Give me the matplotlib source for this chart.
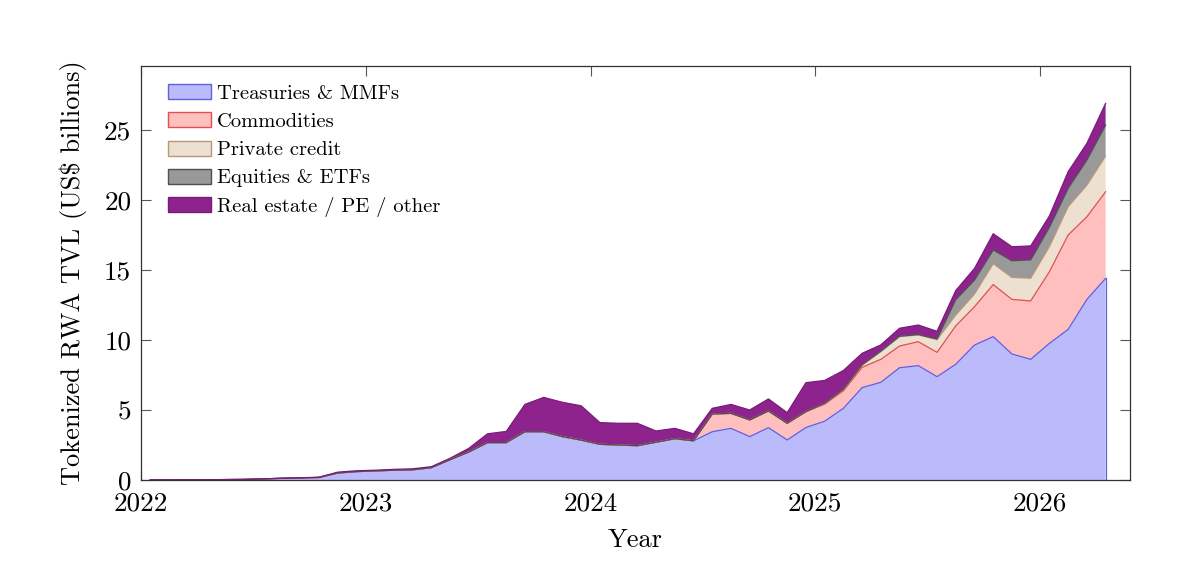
import numpy as np
import matplotlib
matplotlib.use("Agg")
import matplotlib.pyplot as plt
from matplotlib.patches import Patch

# ---- data (US$ billions), monthly Jan 2022 .. Apr 2026 ----
months = [f"{y}-{m:02d}" for y in range(2022, 2027) for m in range(1, 13)][:52]

treasuries = [0.01, 0.01, 0.02, 0.02, 0.03, 0.04, 0.08, 0.12, 0.15, 0.18,
              0.50, 0.60, 0.65, 0.70, 0.73, 0.88, 1.45, 2.00, 2.67, 2.67,
              3.45, 3.45, 3.10, 2.85, 2.55, 2.50, 2.45, 2.70, 2.95, 2.80,
              3.45, 3.69, 3.10, 3.74, 2.86, 3.75, 4.20, 5.12, 6.60, 6.98,
              8.02, 8.17, 7.38, 8.27, 9.64, 10.24, 9.00, 8.62, 9.76, 10.76,
              12.90, 14.40]
commodities = [0]*29 + [0.0,
               1.26, 1.07, 1.19, 1.19, 1.19, 1.13, 1.22, 1.25, 1.45, 1.64,
               1.55, 1.71, 1.74, 2.74, 2.74, 3.72, 3.90, 4.17, 5.12, 6.74,
               5.90, 6.19]
private_credit = [0]*35 + [0.0, 0.05, 0.10, 0.15, 0.55, 0.67, 0.48, 0.90,
                           0.77, 0.90, 1.49, 1.57, 1.62, 1.79, 2.02, 2.26, 2.55]
equities = [0]*35 + [0.0, 0.01, 0.02, 0.03, 0.03, 0.03, 0.03, 0.05,
                     1.10, 1.00, 0.98, 1.19, 1.31, 1.38, 1.31, 1.79, 2.21]
other = [0.0, 0.0, 0.0, 0.0, 0.0, 0.0, 0.0, 0.0, 0.01, 0.02,
         0.06, 0.06, 0.05, 0.06, 0.07, 0.07, 0.10, 0.26, 0.63, 0.80,
         1.95, 2.45, 2.45, 2.45, 1.55, 1.55, 1.60, 0.80, 0.74, 0.50,
         0.41, 0.64, 0.71, 0.86, 0.76, 2.07, 1.63, 1.33, 0.82, 0.45,
         0.57, 0.68, 0.55, 0.65, 0.83, 1.16, 1.00, 1.00, 0.81, 1.19,
         1.19, 1.55]

series_names = ["Treasuries & MMFs", "Commodities", "Private credit",
                "Equities & ETFs", "Real estate / PE / other"]

# ---- styling ----
plt.rcParams["font.family"] = ["cmr10", "DejaVu Serif"]
plt.rcParams["mathtext.fontset"] = "cm"
plt.rcParams["axes.formatter.use_mathtext"] = True

fills = ["#bbbbfc", "#ffbfbf", "#ede0d1", "#999999", "#8e238e"]
edges = ["#6060e0", "#e05050", "#b89878", "#505050", "#7a1a7a"]

x = np.array([int(s[:4]) + (int(s[5:]) - 0.5) / 12 for s in months])
data = [np.array(s, dtype=float) for s in
        (treasuries, commodities, private_credit, equities, other)]

fig = plt.figure(figsize=(11.79, 5.73), dpi=100)
ax = fig.add_axes([0.1196, 0.1623, 0.8388, 0.7225])

base = np.zeros_like(x)
for vals, fc, ec in zip(data, fills, edges):
    top = base + vals
    ax.fill_between(x, base, top, facecolor=fc, edgecolor="none", zorder=2)
    ax.plot(x, top, color=ec, lw=0.9, zorder=3)
    base = top
ax.plot([x[-1], x[-1]], [0, data[0][-1]], color=edges[0], lw=0.9, zorder=3)

ax.set_xlim(2022, 2026.40)
ax.set_ylim(0, 29.57)
ax.set_xticks([2022, 2023, 2024, 2025, 2026])
ax.set_xticklabels(["2022", "2023", "2024", "2025", "2026"])
ax.set_yticks([0, 5, 10, 15, 20, 25])
ax.set_yticklabels(["0", "5", "10", "15", "20", "25"])
ax.tick_params(direction="in", length=7, width=0.8, color="#555555",
               top=True, right=True, labelsize=19.5)
ax.tick_params(axis="x", pad=8.5)
ax.tick_params(axis="y", pad=7)
for sp in ax.spines.values():
    sp.set_color("#333333")
    sp.set_linewidth(0.9)
    sp.set_zorder(5)

ax.set_xlabel("Year", fontsize=19, labelpad=9)
ax.set_ylabel("Tokenized RWA TVL (US\\$ billions)", fontsize=19, labelpad=12)

handles = [Patch(facecolor=fc, edgecolor=ec, lw=1.0) for fc, ec in zip(fills, edges)]
leg = ax.legend(handles, series_names, loc="upper left", frameon=False,
                fontsize=14.8, handlelength=2.1, handleheight=0.75,
                handletextpad=0.3, labelspacing=0.46, borderpad=0,
                borderaxespad=0, bbox_to_anchor=(0.0273, 0.956))

fig.savefig("out.png", dpi=100)
